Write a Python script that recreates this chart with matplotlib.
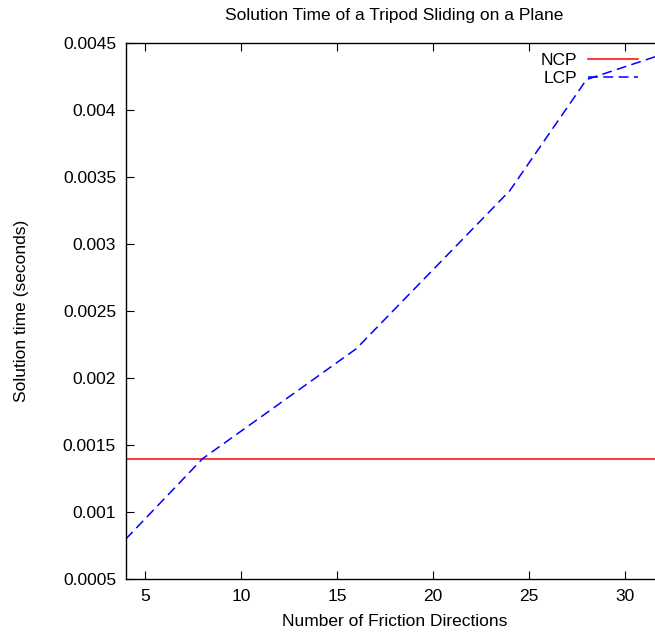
import matplotlib
matplotlib.use("Agg")
import matplotlib.pyplot as plt

plt.rcParams['font.family'] = ['Liberation Sans', 'DejaVu Sans']

# friction directions and solve times
lcp_x = [4, 8, 16, 24, 28, 32]
lcp_y = [0.0008, 0.0014, 0.00222, 0.0034, 0.00423, 0.00442]
ncp_x = [4, 32]
ncp_y = [0.0014, 0.0014]

xticks = [5, 10, 15, 20, 25, 30]
yticks = [0.0005, 0.001, 0.0015, 0.002, 0.0025, 0.003, 0.0035, 0.004, 0.0045]
yticklabels = ['0.0005', '0.001', '0.0015', '0.002', '0.0025', '0.003', '0.0035', '0.004', '0.0045']

fig = plt.figure(figsize=(6.55, 6.34), dpi=100)
# plot area runs past the right edge, like the original export
ax = fig.add_axes([0.192, 0.0863, 0.8208, 0.8454])

ax.plot(ncp_x, ncp_y, color='#ff0000', lw=1.1, label='NCP')
ax.plot(lcp_x, lcp_y, color='#0000ff', lw=1.1, dashes=(6.5, 3.5), label='LCP')

ax.set_xlim(4, 32)
ax.set_ylim(0.0005, 0.0045)
ax.set_xticks(xticks)
ax.set_yticks(yticks)
ax.set_yticklabels(yticklabels)
ax.tick_params(direction='in', length=6, width=0.8, top=True, right=True,
               labelsize=12.5, pad=7)
for s in ax.spines.values():
    s.set_linewidth(1.0)

ax.set_title('Solution Time of a Tripod Sliding on a Plane', fontsize=12.5, pad=17)
ax.set_xlabel('Number of Friction Directions', fontsize=12.5, labelpad=7)
ax.set_ylabel('Solution time (seconds)', fontsize=12.5, labelpad=24)

fig.legend(loc='upper right', bbox_to_anchor=(647 / 655, 1 - 44 / 634),
           frameon=False, markerfirst=False, fontsize=12.5, handlelength=2.9,
           handletextpad=0.6, labelspacing=0.15, borderpad=0)

fig.savefig('out.png', dpi=100)
